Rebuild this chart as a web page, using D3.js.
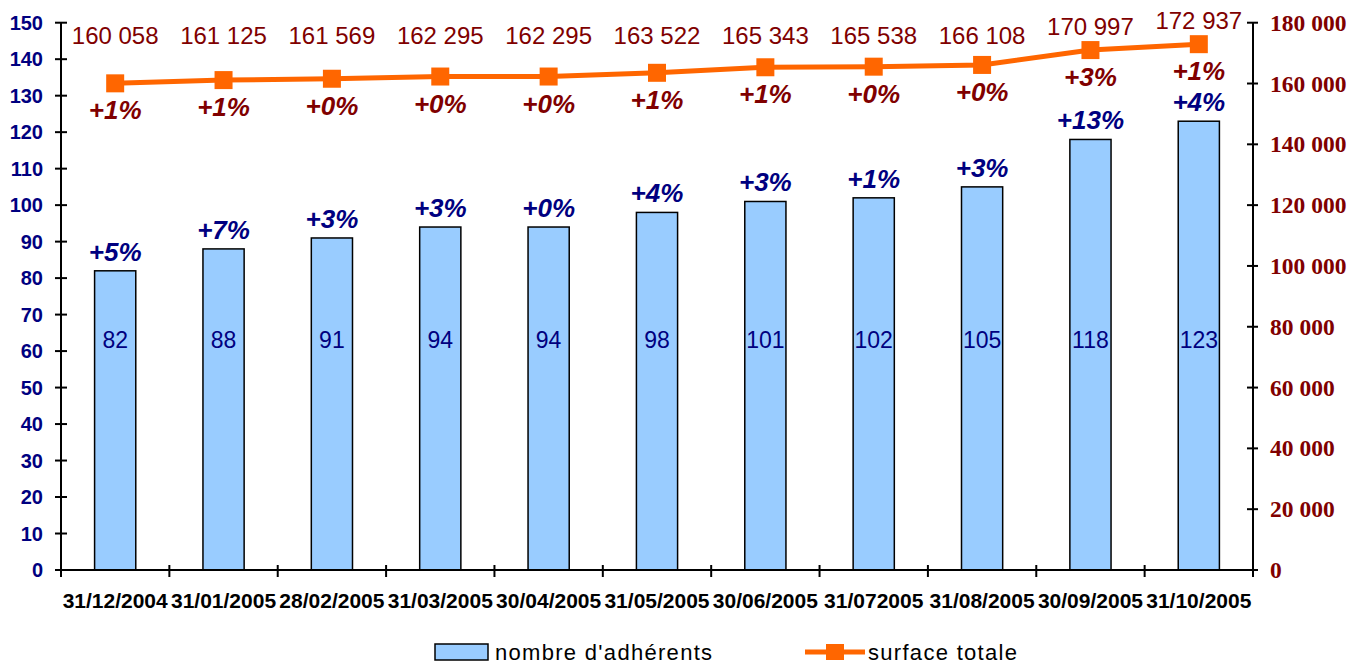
<!DOCTYPE html>
<html>
<head>
<meta charset="utf-8">
<script src="https://cdn.jsdelivr.net/npm/d3@7"></script>
<style>
  body { margin: 0; background: #fff; }
  text { font-family: "Liberation Sans", Arial, sans-serif; }
</style>
</head>
<body>
<div class="canvas"></div>
<script>
// data
const dates = ['31/12/2004','31/01/2005','28/02/2005','31/03/2005','30/04/2005','31/05/2005',
               '30/06/2005','31/072005','31/08/2005','30/09/2005','31/10/2005'];
const adherents = [82, 88, 91, 94, 94, 98, 101, 102, 105, 118, 123];
const adherentsPct = ['+5%','+7%','+3%','+3%','+0%','+4%','+3%','+1%','+3%','+13%','+4%'];
const surface = [160058, 161125, 161569, 162295, 162295, 163522, 165343, 165538, 166108, 170997, 172937];
const surfacePct = ['+1%','+1%','+0%','+0%','+0%','+1%','+1%','+0%','+0%','+3%','+1%'];
const leftTicks = d3.range(0, 151, 10);
const rightTicks = d3.range(0, 180001, 20000);

const dim = { width: 1359, height: 666 };
const plot = { left: 61, right: 1253, top: 22.7, bottom: 570 };

const blue = '#000080';
const red = '#800000';
const orange = '#FF6600';

const svg = d3.select('.canvas')
    .append('svg')
    .attr('width', dim.width)
    .attr('height', dim.height);

const x = d3.scaleBand()
    .domain(dates)
    .range([plot.left, plot.right])
    .paddingInner(0.62)
    .paddingOuter(0.31);

const yL = d3.scaleLinear().domain([0, 150]).range([plot.bottom, plot.top]);
const yR = d3.scaleLinear().domain([0, 180000]).range([plot.bottom, plot.top]);
const band = (plot.right - plot.left) / dates.length;
const cx = (d) => x(d) + x.bandwidth() / 2;

const fmt = (v) => d3.format(',')(v).replace(/,/g, ' ');

// bars
svg.append('g').selectAll('rect')
    .data(adherents)
    .join('rect')
    .attr('x', (d, i) => x(dates[i]))
    .attr('y', d => yL(d))
    .attr('width', x.bandwidth())
    .attr('height', d => yL(0) - yL(d))
    .attr('fill', '#99CCFF')
    .attr('stroke', '#000')
    .attr('stroke-width', 1.5);

// value inside bars
svg.append('g').selectAll('text')
    .data(adherents)
    .join('text')
    .attr('x', (d, i) => cx(dates[i]))
    .attr('y', yL(63) + 8)
    .attr('text-anchor', 'middle')
    .attr('font-size', 23)
    .attr('fill', blue)
    .text(d => d);

// blue % labels above bars
svg.append('g').selectAll('text')
    .data(adherents)
    .join('text')
    .attr('x', (d, i) => cx(dates[i]))
    .attr('y', d => yL(d) - 10)
    .attr('text-anchor', 'middle')
    .attr('font-size', 26)
    .attr('font-weight', 'bold')
    .attr('font-style', 'italic')
    .attr('fill', blue)
    .text((d, i) => adherentsPct[i]);

// axes
const axisG = svg.append('g').attr('stroke', '#000').attr('stroke-width', 2);
axisG.append('line')
    .attr('x1', plot.left).attr('x2', plot.left)
    .attr('y1', plot.top).attr('y2', plot.bottom);
axisG.append('line')
    .attr('x1', plot.right).attr('x2', plot.right)
    .attr('y1', plot.top).attr('y2', plot.bottom);
axisG.append('line')
    .attr('x1', plot.left).attr('x2', plot.right)
    .attr('y1', plot.bottom).attr('y2', plot.bottom);

axisG.selectAll('.tl')
    .data(leftTicks)
    .join('line')
    .attr('x1', plot.left - 6).attr('x2', plot.left + 6)
    .attr('y1', d => yL(d)).attr('y2', d => yL(d));
axisG.selectAll('.tr')
    .data(rightTicks)
    .join('line')
    .attr('x1', plot.right - 6).attr('x2', plot.right + 5)
    .attr('y1', d => yR(d)).attr('y2', d => yR(d));
axisG.selectAll('.tx')
    .data(d3.range(dates.length + 1))
    .join('line')
    .attr('x1', i => plot.left + i * band).attr('x2', i => plot.left + i * band)
    .attr('y1', plot.bottom - 5).attr('y2', plot.bottom + 7);

svg.append('g').selectAll('text')
    .data(leftTicks)
    .join('text')
    .attr('x', 43)
    .attr('y', d => yL(d) + 7)
    .attr('text-anchor', 'end')
    .attr('font-size', 20)
    .attr('font-weight', 'bold')
    .attr('fill', blue)
    .text(d => d);

svg.append('g').selectAll('text')
    .data(rightTicks)
    .join('text')
    .attr('x', plot.right + 17)
    .attr('y', d => yR(d) + 8)
    .attr('font-size', 23.5)
    .attr('font-weight', 'bold')
    .attr('fill', red)
    .style('font-family', '"Liberation Serif", "Times New Roman", serif')
    .text(d => fmt(d));

svg.append('g').selectAll('text')
    .data(dates)
    .join('text')
    .attr('x', d => cx(d))
    .attr('y', 608)
    .attr('text-anchor', 'middle')
    .attr('font-size', 21)
    .attr('font-weight', 'bold')
    .attr('fill', '#000')
    .text(d => d);

// line series
const line = d3.line()
    .x((d, i) => cx(dates[i]))
    .y(d => yR(d));

svg.append('path')
    .datum(surface)
    .attr('d', line)
    .attr('fill', 'none')
    .attr('stroke', orange)
    .attr('stroke-width', 5);

svg.append('g').selectAll('rect')
    .data(surface)
    .join('rect')
    .attr('x', (d, i) => cx(dates[i]) - 9)
    .attr('y', d => yR(d) - 9)
    .attr('width', 18)
    .attr('height', 18)
    .attr('fill', orange);

svg.append('g').selectAll('text')
    .data(surface)
    .join('text')
    .attr('x', (d, i) => cx(dates[i]))
    .attr('y', d => Math.min(35, yR(d) - 24) + 9)
    .attr('text-anchor', 'middle')
    .attr('font-size', 24)
    .attr('fill', red)
    .text(d => fmt(d));

svg.append('g').selectAll('text')
    .data(surface)
    .join('text')
    .attr('x', (d, i) => cx(dates[i]))
    .attr('y', d => yR(d) + 36)
    .attr('text-anchor', 'middle')
    .attr('font-size', 26)
    .attr('font-weight', 'bold')
    .attr('font-style', 'italic')
    .attr('fill', red)
    .text((d, i) => surfacePct[i]);

// legend
const legend = svg.append('g').attr('transform', 'translate(0,652)');
legend.append('rect')
    .attr('x', 435).attr('y', -8)
    .attr('width', 53).attr('height', 16)
    .attr('fill', '#99CCFF')
    .attr('stroke', '#000')
    .attr('stroke-width', 1.5);
legend.append('text')
    .attr('x', 495).attr('y', 8)
    .attr('font-size', 22)
    .attr('letter-spacing', 1.3)
    .attr('fill', '#000')
    .text("nombre d'adhérents");
legend.append('line')
    .attr('x1', 805).attr('x2', 865)
    .attr('y1', 0).attr('y2', 0)
    .attr('stroke', orange)
    .attr('stroke-width', 5);
legend.append('rect')
    .attr('x', 826).attr('y', -8)
    .attr('width', 18).attr('height', 16)
    .attr('fill', orange);
legend.append('text')
    .attr('x', 868).attr('y', 8)
    .attr('font-size', 22)
    .attr('letter-spacing', 1.3)
    .attr('fill', '#000')
    .text('surface totale');
</script>
</body>
</html>
